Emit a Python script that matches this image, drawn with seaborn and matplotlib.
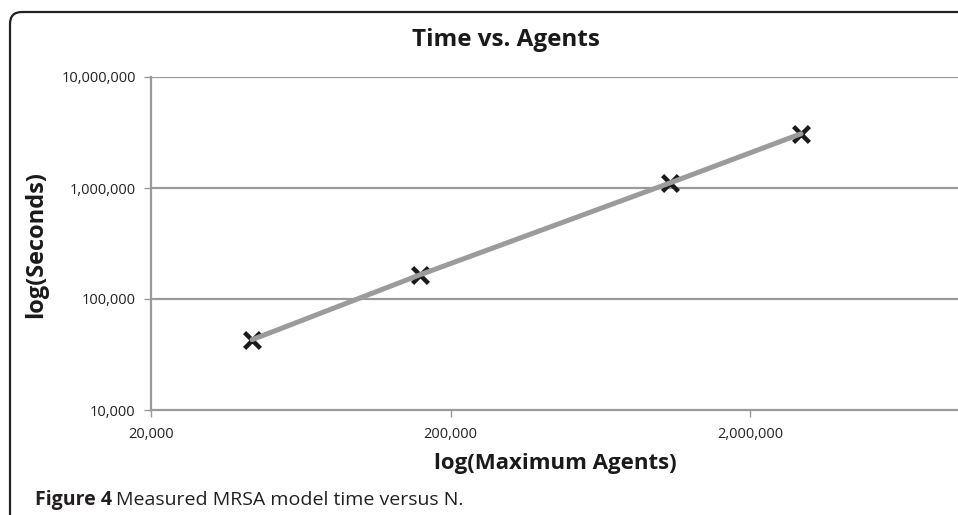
import matplotlib
matplotlib.use("Agg")
import matplotlib.pyplot as plt
import matplotlib.ticker as mticker
from matplotlib.patches import FancyBboxPatch
import pandas as pd
import seaborn as sns

# values (log-log)
max_agents = [43500, 158000, 1080000, 2960000]
seconds = [43000, 165000, 1110000, 3080000]
x_ticks = [20000, 200000, 2000000]
y_ticks = [10000, 100000, 1000000, 10000000]

df = pd.DataFrame({"agents": max_agents, "seconds": seconds})

sns.set_theme(style="white")
plt.rcParams["font.family"] = ["Open Sans", "DejaVu Sans"]

W, H = 958, 515
fig = plt.figure(figsize=(W / 100, H / 100), dpi=100)

# axes: left edge at 151px, bottom at 410px, top at 77px, decade of x = ~300px
left, right_px, top, bottom = 151, 151 + 3 * 299.5, 77, 410
ax = fig.add_axes([left / W, 1 - bottom / H, (right_px - left) / W, (bottom - top) / H])
ax.set_xscale("log")
ax.set_yscale("log")
ax.set_xlim(20000, 20000000)
ax.set_ylim(10000, 10000000)

grey = "#9a9a9c"
for yt in y_ticks[1:]:
    ax.axhline(yt, color=grey, lw=1.6, zorder=1)

sns.scatterplot(data=df, x="agents", y="seconds", marker="x", s=130,
                color="#1a1a1a", linewidth=3.2, ax=ax, zorder=2, legend=False)
sns.lineplot(data=df, x="agents", y="seconds", color="#9b9b9b", lw=3.6,
             ax=ax, zorder=3, legend=False)

for side in ["top", "right"]:
    ax.spines[side].set_visible(False)
for side in ["left", "bottom"]:
    ax.spines[side].set_color(grey)
    ax.spines[side].set_linewidth(1.6)

ax.set_xticks(x_ticks)
ax.set_yticks(y_ticks)
ax.xaxis.set_minor_locator(mticker.NullLocator())
ax.yaxis.set_minor_locator(mticker.NullLocator())
fmt = mticker.FuncFormatter(lambda v, p: f"{int(round(v)):,}")
ax.xaxis.set_major_formatter(fmt)
ax.yaxis.set_major_formatter(fmt)
ax.tick_params(axis="both", which="major", direction="out", length=5, width=1,
               color=grey, labelsize=10.5, labelcolor="#222222", bottom=True, left=True)
ax.tick_params(axis="x", pad=7)
ax.tick_params(axis="y", pad=6)
ax.set_xlabel("")
ax.set_ylabel("")

fig.text(506 / W, 1 - 40 / H, "Time vs. Agents", ha="center", va="center",
         fontsize=17.5, fontweight="bold", color="#1a1a1a")
fig.text(555 / W, 1 - 464 / H, "log(Maximum Agents)", ha="center", va="center",
         fontsize=16, fontweight="bold", color="#1a1a1a")
fig.text(36 / W, 1 - 245 / H, "log(Seconds)", ha="center", va="center",
         rotation=90, fontsize=17, fontweight="bold", color="#1a1a1a")

# outer chart frame with rounded top-left corner
frame = FancyBboxPatch((0.1, -1.0), 12.0, (H - 12) / 100 + 1.0,
                       boxstyle="round,pad=0,rounding_size=0.12",
                       transform=fig.dpi_scale_trans, fill=False,
                       edgecolor="#222222", lw=1.6, clip_on=False)
fig.patches.append(frame)

# caption
cap_y = 1 - 500 / H
t1 = fig.text(35 / W, cap_y, "Figure 4", ha="left", va="center",
              fontsize=14, fontweight="bold", color="#231f20")
fig.canvas.draw()
bb = t1.get_window_extent(fig.canvas.get_renderer())
fig.text(bb.x1 / W + 4 / W, cap_y, "Measured MRSA model time versus N.",
         ha="left", va="center", fontsize=14, color="#231f20")

fig.savefig("out.png", dpi=100)
